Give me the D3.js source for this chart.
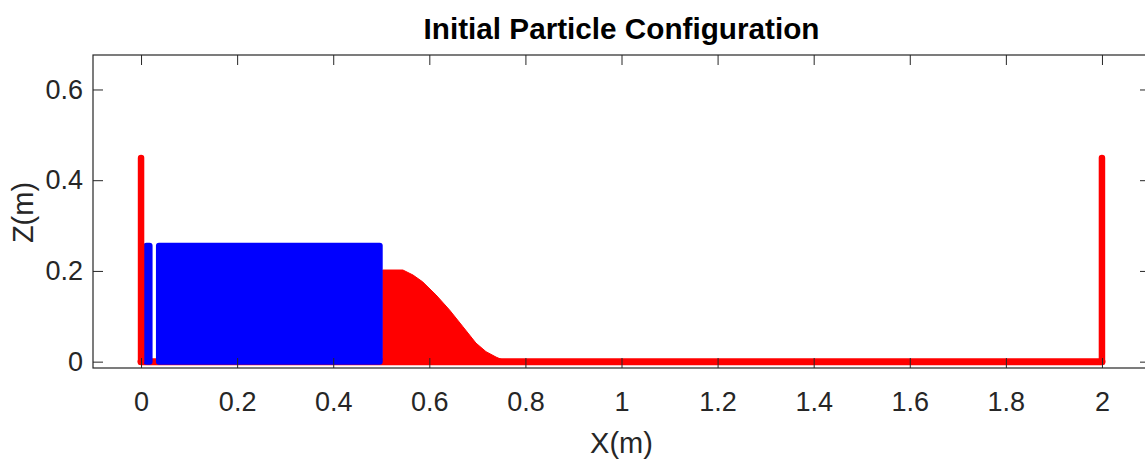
<!DOCTYPE html>
<html>
<head>
<meta charset="utf-8">
<script src="https://cdn.jsdelivr.net/npm/d3@7"></script>
<style>
  body { margin: 0; background: #fff; }
  svg { display: block; font-family: "Liberation Sans", Arial, Helvetica, sans-serif; }
</style>
</head>
<body>
<div id="chart"></div>
<script>
// particle configuration (metres)
let xTicks = [0, 0.2, 0.4, 0.6, 0.8, 1, 1.2, 1.4, 1.6, 1.8, 2];
let xTickLabels = ["0", "0.2", "0.4", "0.6", "0.8", "1", "1.2", "1.4", "1.6", "1.8", "2"];
let zTicks = [0, 0.2, 0.4, 0.6];
let zTickLabels = ["0", "0.2", "0.4", "0.6"];

// boundary (red) particles
let wallX = [0, 2];
let wallTop = 0.449;
let floorX = [0, 2];

// fluid (blue) column, two blocks split by a thin gap
let blueX0 = [0.005, 0.031];
let blueX1 = [0.024, 0.503];
let blueTop = 0.262;

// red sediment mound profile
let moundX = [0.503, 0.545, 0.566, 0.586, 0.614, 0.642, 0.670, 0.697, 0.718, 0.739, 0.750, 0.765];
let moundZ = [0.202, 0.202, 0.191, 0.176, 0.147, 0.114, 0.077, 0.041, 0.022, 0.010, 0.005, 0];

let W = 1145, H = 460;
let margin = {top: 55, right: -5, bottom: 92, left: 93};
let width = W - margin.left - margin.right,
    height = H - margin.top - margin.bottom;

let ink = "#262626";

let svg = d3.select("#chart")
  .append("svg")
    .attr("width", W)
    .attr("height", H);

let g = svg.append("g")
    .attr("transform", "translate(" + margin.left + "," + margin.top + ")");

let x = d3.scaleLinear().domain([-0.1, 2.1]).range([0, width]);
let y = d3.scaleLinear().domain([-0.014, 0.676]).range([height, 0]);

// floor
g.append("line")
  .attr("x1", x(floorX[0])).attr("x2", x(floorX[1]))
  .attr("y1", y(0)).attr("y2", y(0))
  .attr("stroke", "#ff0000")
  .attr("stroke-width", 7)
  .attr("stroke-linecap", "round");

// mound
let moundData = moundX.map(function(d, i) { return {x: d, z: moundZ[i]}; });
g.append("path")
  .datum(moundData)
  .attr("fill", "#ff0000")
  .attr("stroke", "#ff0000")
  .attr("stroke-width", 1)
  .attr("d", d3.area()
    .x(function(d) { return x(d.x); })
    .y0(y(0))
    .y1(function(d) { return y(d.z); }));

// blue column
let blueData = blueX0.map(function(d, i) { return {x0: d, x1: blueX1[i]}; });
g.selectAll(".blue")
  .data(blueData)
  .enter().append("rect")
    .attr("class", "blue")
    .attr("x", function(d) { return x(d.x0); })
    .attr("width", function(d) { return x(d.x1) - x(d.x0); })
    .attr("y", y(blueTop))
    .attr("height", y(-0.007) - y(blueTop))
    .attr("rx", 3)
    .attr("fill", "#0000ff");

// walls
g.selectAll(".wall")
  .data(wallX)
  .enter().append("line")
    .attr("class", "wall")
    .attr("x1", function(d) { return x(d); })
    .attr("x2", function(d) { return x(d); })
    .attr("y1", y(0))
    .attr("y2", y(wallTop))
    .attr("stroke", "#ff0000")
    .attr("stroke-width", 6.5)
    .attr("stroke-linecap", "round");

// axes (ticks inward, MATLAB style box)
function styleAxis(sel) {
  sel.select(".domain").remove();
  sel.selectAll(".tick line").attr("stroke", ink);
  sel.selectAll(".tick text").attr("fill", ink).style("font-size", "27px");
}

g.append("g")
  .attr("transform", "translate(0," + height + ")")
  .call(d3.axisBottom(x).tickValues(xTicks)
    .tickFormat(function(d, i) { return xTickLabels[i]; })
    .tickSizeInner(-10).tickSizeOuter(0).tickPadding(24))
  .call(styleAxis);

g.append("g")
  .call(d3.axisTop(x).tickValues(xTicks).tickFormat("")
    .tickSizeInner(-10).tickSizeOuter(0))
  .call(styleAxis);

g.append("g")
  .call(d3.axisLeft(y).tickValues(zTicks)
    .tickFormat(function(d, i) { return zTickLabels[i]; })
    .tickSizeInner(-10).tickSizeOuter(0).tickPadding(10))
  .call(styleAxis);

g.append("g")
  .attr("transform", "translate(" + width + ",0)")
  .call(d3.axisRight(y).tickValues(zTicks).tickFormat("")
    .tickSizeInner(-10).tickSizeOuter(0))
  .call(styleAxis);

g.append("rect")
  .attr("x", 0).attr("y", 0)
  .attr("width", width).attr("height", height)
  .attr("fill", "none")
  .attr("stroke", ink)
  .attr("stroke-width", 1.2);

// labels
svg.append("text")
  .attr("x", margin.left + width / 2)
  .attr("y", 39)
  .attr("text-anchor", "middle")
  .attr("fill", "#000")
  .style("font-size", "29.7px")
  .style("font-weight", "bold")
  .text("Initial Particle Configuration");

svg.append("text")
  .attr("x", margin.left + width / 2)
  .attr("y", 453)
  .attr("text-anchor", "middle")
  .attr("fill", ink)
  .style("font-size", "29px")
  .text("X(m)");

svg.append("text")
  .attr("transform", "translate(33," + (margin.top + height / 2 + 1) + ") rotate(-90)")
  .attr("text-anchor", "middle")
  .attr("fill", ink)
  .style("font-size", "29px")
  .text("Z(m)");
</script>
</body>
</html>
